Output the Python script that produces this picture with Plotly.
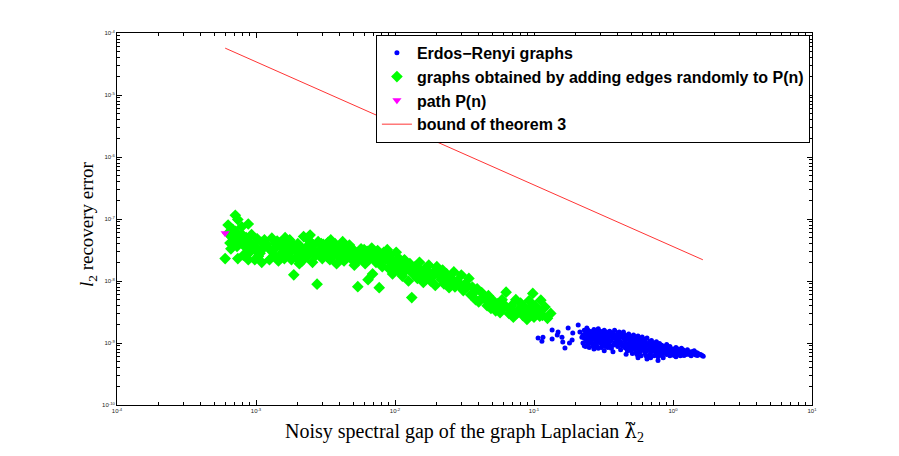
import plotly.graph_objects as go

# ---------------- data ----------------
# graphs obtained by adding edges randomly to P(n)
green_x = [
    7.1e-4, 7.4e-4, 8.8e-4, 6.3e-4, 7.9e-4, 6.0e-4, 6.3e-4, 6.7e-4, 6.5e-4, 7.1e-4,
    7.3e-4, 7.9e-4, 8.3e-4, 8.8e-4, 9.3e-4, 9.8e-4, 7.4e-4, 8.8e-4, 9.8e-4, 1.10e-3,
    1.07e-3, 1.15e-3, 1.20e-3, 1.13e-3, 6.8e-4, 7.6e-4, 8.1e-4, 9.0e-4, 1.02e-3, 6.6e-4,
    1.04e-3, 8.5e-4, 9.5e-4,
    1.3e-3, 1.35e-3, 1.4e-3, 1.45e-3, 1.5e-3, 1.55e-3, 1.6e-3, 1.65e-3, 1.7e-3, 1.75e-3,
    1.8e-3, 1.25e-3, 1.42e-3, 1.62e-3,
    1.87e-3, 1.9e-3, 1.95e-3, 2.0e-3, 2.1e-3, 2.15e-3, 2.2e-3, 2.3e-3, 2.35e-3, 2.4e-3,
    2.5e-3, 2.55e-3, 2.6e-3, 2.75e-3, 2.7e-3, 2.8e-3, 2.9e-3, 3.0e-3, 3.05e-3, 2.45e-3,
    2.05e-3,
    3.2e-3, 3.3e-3, 3.4e-3, 3.5e-3, 3.6e-3, 3.7e-3, 3.8e-3, 3.9e-3, 4.0e-3, 4.1e-3,
    4.3e-3, 4.4e-3, 4.6e-3, 4.7e-3, 4.9e-3, 5.0e-3, 5.1e-3, 3.45e-3, 4.2e-3,
    5.4e-3, 5.3e-3, 5.5e-3, 5.7e-3, 5.9e-3, 6.1e-3, 6.3e-3, 6.4e-3, 6.6e-3, 6.9e-3,
    6.8e-3, 7.0e-3, 7.3e-3, 7.5e-3, 7.7e-3, 7.8e-3, 8.1e-3, 8.3e-3,
    8.6e-3, 8.8e-3, 9.0e-3, 9.3e-3, 9.6e-3, 9.9e-3, 1.02e-2, 1.05e-2, 1.07e-2,
    1.1e-2, 1.13e-2, 1.17e-2, 1.2e-2, 1.25e-2, 1.28e-2, 1.32e-2, 1.35e-2, 1.4e-2, 1.45e-2,
    1.5e-2, 1.55e-2, 1.6e-2,
    1.65e-2, 1.7e-2, 1.75e-2, 1.8e-2, 1.9e-2, 1.95e-2, 2.0e-2, 2.1e-2, 2.2e-2, 2.25e-2,
    2.35e-2, 2.45e-2,
    2.55e-2, 2.65e-2, 2.7e-2, 2.8e-2, 3.0e-2, 3.1e-2, 3.2e-2, 3.4e-2, 3.5e-2, 3.6e-2,
    3.8e-2, 3.9e-2, 4.0e-2,
    4.2e-2, 4.4e-2, 4.6e-2, 4.7e-2, 4.9e-2, 5.1e-2, 5.3e-2, 5.5e-2, 5.7e-2, 5.9e-2,
    6.1e-2, 6.3e-2,
    6.6e-2, 6.9e-2, 7.1e-2, 7.4e-2, 7.7e-2, 8.0e-2, 8.3e-2, 8.6e-2, 8.9e-2, 9.2e-2,
    9.5e-2, 9.8e-2, 1.0e-1, 1.02e-1,
    1.08e-1, 1.12e-1, 1.15e-1, 1.2e-1, 1.25e-1, 1.32e-1,
    1.28e-3, 1.38e-3, 1.48e-3, 1.58e-3, 1.68e-3, 1.78e-3, 1.85e-3, 1.98e-3, 2.08e-3, 2.25e-3,
    2.38e-3, 2.52e-3, 2.65e-3, 2.85e-3, 2.95e-3, 3.1e-3, 3.25e-3, 3.55e-3, 3.75e-3, 3.95e-3,
    4.15e-3, 4.5e-3, 4.8e-3, 5.2e-3, 5.6e-3, 6.0e-3, 6.2e-3, 6.7e-3, 7.2e-3, 7.6e-3,
    8.0e-3, 8.5e-3, 9.1e-3, 9.5e-3, 1.0e-2, 1.08e-2, 1.15e-2, 1.23e-2, 1.3e-2, 1.38e-2,
    1.48e-2, 1.58e-2, 1.68e-2, 1.78e-2, 1.85e-2, 2.05e-2, 2.15e-2, 2.3e-2, 2.4e-2, 2.6e-2,
    2.9e-2, 3.3e-2, 3.7e-2, 4.3e-2, 4.8e-2, 5.2e-2, 5.6e-2, 6.0e-2, 6.8e-2, 7.5e-2,
    8.2e-2, 9.0e-2, 9.7e-2, 1.05e-1, 1.1e-1, 7.0e-4, 8.0e-4, 9.0e-4, 1.0e-3, 1.1e-3,
]
green_y = [
    1.15e-7, 9.8e-8, 8.3e-8, 8.0e-8, 7.5e-8, 2.3e-8, 5.9e-8, 5.1e-8, 4.1e-8, 6.3e-8,
    3.6e-8, 4.1e-8, 3.6e-8, 4.3e-8, 5.6e-8, 3.2e-8, 2.3e-8, 2.2e-8, 2.2e-8, 2.0e-8,
    2.8e-8, 4.6e-8, 3.9e-8, 3.4e-8, 6.8e-8, 5.3e-8, 2.6e-8, 2.9e-8, 4.8e-8, 3.3e-8,
    2.5e-8, 5.0e-8, 3.8e-8,
    4.9e-8, 2.6e-8, 3.5e-8, 2.1e-8, 4.2e-8, 2.9e-8, 2.3e-8, 3.6e-8, 2.7e-8, 4.6e-8,
    2.2e-8, 2.2e-8, 4.4e-8, 5.0e-8,
    1.26e-8, 3.3e-8, 2.4e-8, 4.0e-8, 2.8e-8, 2.1e-8, 5.2e-8, 3.5e-8, 2.5e-8, 4.5e-8,
    3.0e-8, 2.0e-8, 3.8e-8, 8.9e-9, 2.6e-8, 4.3e-8, 3.2e-8, 2.3e-8, 3.9e-8, 5.5e-8,
    1.9e-8,
    2.9e-8, 4.2e-8, 2.2e-8, 3.4e-8, 2.6e-8, 4.0e-8, 1.9e-8, 3.0e-8, 2.4e-8, 3.6e-8,
    2.1e-8, 3.1e-8, 2.6e-8, 3.8e-8, 2.2e-8, 3.2e-8, 1.8e-8, 4.6e-8, 4.3e-8,
    8.1e-9, 2.8e-8, 2.2e-8, 3.3e-8, 2.5e-8, 1.9e-8, 3.0e-8, 1.05e-8, 2.3e-8, 1.3e-8,
    3.4e-8, 2.7e-8, 2.0e-8, 3.1e-8, 7.8e-9, 2.4e-8, 1.7e-8, 2.9e-8,
    2.2e-8, 3.2e-8, 1.6e-8, 2.6e-8, 1.3e-8, 2.0e-8, 2.9e-8, 1.5e-8, 2.3e-8,
    1.8e-8, 1.2e-8, 2.2e-8, 1.5e-8, 1.0e-8, 1.9e-8, 5.4e-9, 1.3e-8, 1.7e-8, 1.1e-8,
    2.0e-8, 1.4e-8, 9.5e-9,
    1.6e-8, 1.2e-8, 1.8e-8, 1.0e-8, 1.4e-8, 8.5e-9, 1.7e-8, 1.2e-8, 1.5e-8, 9.0e-9,
    1.3e-8, 7.8e-9,
    1.1e-8, 1.4e-8, 8.0e-9, 1.0e-8, 1.25e-8, 7.0e-9, 9.0e-9, 1.1e-8, 6.0e-9, 8.0e-9,
    5.0e-9, 7.5e-9, 4.6e-9,
    6.5e-9, 5.2e-9, 4.0e-9, 5.8e-9, 3.6e-9, 4.8e-9, 3.3e-9, 4.3e-9, 3.1e-9, 5.0e-9,
    3.8e-9, 6.6e-9,
    3.0e-9, 4.0e-9, 2.6e-9, 5.0e-9, 3.4e-9, 4.4e-9, 2.8e-9, 3.7e-9, 2.4e-9, 4.8e-9,
    3.1e-9, 6.3e-9, 2.6e-9, 4.0e-9,
    3.3e-9, 4.9e-9, 2.8e-9, 3.8e-9, 2.5e-9, 3.0e-9,
    3.1e-8, 4.0e-8, 2.5e-8, 3.3e-8, 4.3e-8, 3.0e-8, 3.8e-8, 2.9e-8, 3.6e-8, 2.9e-8,
    3.2e-8, 4.0e-8, 3.0e-8, 2.6e-8, 4.0e-8, 3.3e-8, 2.5e-8, 3.9e-8, 2.9e-8, 3.5e-8,
    2.8e-8, 3.4e-8, 2.9e-8, 2.5e-8, 2.9e-8, 3.2e-8, 2.3e-8, 2.8e-8, 2.4e-8, 2.7e-8,
    2.2e-8, 2.6e-8, 2.3e-8, 1.9e-8, 1.7e-8, 2.0e-8, 1.6e-8, 1.8e-8, 1.5e-8, 1.4e-8,
    1.6e-8, 1.25e-8, 1.4e-8, 1.3e-8, 1.15e-8, 1.4e-8, 1.05e-8, 1.1e-8, 1.0e-8, 9.5e-9,
    8.5e-9, 8.0e-9, 6.5e-9, 5.5e-9, 4.6e-9, 4.0e-9, 3.7e-9, 4.3e-9, 3.5e-9, 3.0e-9,
    3.6e-9, 3.0e-9, 4.0e-9, 3.0e-9, 2.7e-9, 4.6e-8, 5.5e-8, 4.0e-8, 3.5e-8, 4.2e-8,
]

# Erdos-Renyi graphs
blue_x = [
    0.107, 0.116, 0.114, 0.135, 0.135, 0.149, 0.147, 0.159, 0.161, 0.167,
    0.176, 0.188, 0.190, 0.208, 0.214, 0.221, 0.180,
    0.23, 0.23, 0.23, 0.24, 0.24, 0.24, 0.25, 0.25, 0.25, 0.25,
    0.26, 0.26, 0.26, 0.27, 0.27, 0.27, 0.27, 0.28, 0.28, 0.28,
    0.29, 0.29, 0.29, 0.29, 0.30, 0.30, 0.30, 0.31, 0.31, 0.31,
    0.32, 0.32, 0.32, 0.32, 0.33, 0.33, 0.33, 0.34, 0.34, 0.34,
    0.35, 0.35, 0.35, 0.37, 0.37, 0.37, 0.37, 0.38, 0.38, 0.38,
    0.40, 0.40, 0.40, 0.40, 0.42, 0.42, 0.42, 0.44, 0.44, 0.44,
    0.46, 0.46, 0.46, 0.46, 0.48, 0.48, 0.48, 0.50, 0.50, 0.50,
    0.52, 0.52, 0.52, 0.54, 0.54, 0.54, 0.56, 0.56, 0.56, 0.56,
    0.58, 0.58, 0.58, 0.60, 0.60, 0.60, 0.63, 0.63, 0.63,
    0.65, 0.65, 0.65, 0.65, 0.68, 0.68, 0.68, 0.70, 0.70, 0.70,
    0.73, 0.73, 0.73, 0.76, 0.76, 0.76, 0.78, 0.80, 0.80, 0.80,
    0.83, 0.83, 0.83, 0.86, 0.86, 0.90, 0.90, 0.90, 0.95, 0.95, 0.95,
    1.00, 1.00, 1.05, 1.05, 1.05, 1.10, 1.10, 1.15, 1.15, 1.20, 1.20,
    1.27, 1.27, 1.35, 1.35, 1.42, 1.42, 1.50, 1.50, 1.58, 1.65,
    0.225, 0.225, 0.235, 0.235, 0.235, 0.245, 0.245, 0.245, 0.255, 0.255,
    0.265, 0.265, 0.265, 0.275, 0.275, 0.285, 0.285, 0.285, 0.295, 0.295,
    0.305, 0.305, 0.305, 0.315, 0.315, 0.325, 0.325, 0.325, 0.335, 0.335,
    0.345, 0.345, 0.36, 0.36, 0.36, 0.39, 0.39, 0.39, 0.41, 0.41, 0.41,
    0.43, 0.43, 0.43, 0.45, 0.45, 0.45, 0.47, 0.47, 0.47, 0.49, 0.49, 0.49,
    0.51, 0.51, 0.51, 0.53, 0.53, 0.53, 0.55, 0.55, 0.55, 0.57, 0.57, 0.57,
    0.59, 0.59, 0.59, 0.62, 0.62, 0.62, 0.64, 0.64, 0.64, 0.67, 0.67, 0.67,
    0.69, 0.69, 0.69, 0.72, 0.72, 0.75, 0.75, 0.75, 0.78, 0.78, 0.78,
    0.82, 0.82, 0.85, 0.85, 0.85, 0.88, 0.88, 0.92, 0.92, 0.97, 0.97,
    1.02, 1.02, 1.08, 1.08, 1.13, 1.13, 1.18, 1.18, 1.24, 1.24,
    1.31, 1.31, 1.39, 1.39, 1.46, 1.46, 1.54, 1.62,
]
blue_y = [
    1.2e-9, 1.24e-9, 1.07e-9, 1.62e-9, 1.16e-9, 1.5e-9, 1.35e-9, 1.24e-9, 1.04e-9, 8.3e-10,
    1.74e-9, 1.12e-9, 1.45e-9, 1.95e-9, 1.5e-9, 1.24e-9, 1.0e-9,
    1.6e-9, 1.2e-9, 9.0e-10, 1.4e-9, 1.05e-9, 1.75e-9, 1.3e-9, 8.5e-10, 1.55e-9, 1.1e-9,
    1.45e-9, 1.0e-9, 1.2e-9, 1.65e-9, 1.15e-9, 8.0e-10, 1.35e-9, 1.5e-9, 1.25e-9, 9.5e-10,
    1.7e-9, 1.1e-9, 1.4e-9, 8.2e-10, 1.3e-9, 1.0e-9, 1.55e-9, 1.45e-9, 1.2e-9, 9.0e-10,
    1.6e-9, 1.1e-9, 1.35e-9, 7.5e-10, 1.25e-9, 9.8e-10, 1.5e-9, 1.4e-9, 1.15e-9, 8.5e-10,
    1.55e-9, 1.05e-9, 1.3e-9, 1.45e-9, 1.2e-9, 9.2e-10, 7.2e-10, 1.35e-9, 1.0e-9, 1.6e-9,
    1.25e-9, 8.8e-10, 1.45e-9, 1.1e-9, 1.35e-9, 1.05e-9, 7.8e-10, 1.2e-9, 9.5e-10, 1.5e-9,
    1.3e-9, 1.0e-9, 8.2e-10, 6.6e-10, 1.15e-9, 9.0e-10, 1.4e-9, 1.25e-9, 1.0e-9, 7.5e-10,
    1.1e-9, 8.5e-10, 1.35e-9, 1.2e-9, 9.5e-10, 7.0e-10, 1.05e-9, 8.2e-10, 1.3e-9, 5.8e-10,
    1.15e-9, 9.0e-10, 7.2e-10, 1.0e-9, 8.0e-10, 1.25e-9, 1.1e-9, 8.8e-10, 6.8e-10,
    9.5e-10, 7.5e-10, 1.2e-9, 5.5e-10, 1.05e-9, 8.5e-10, 6.5e-10, 9.2e-10, 7.2e-10, 1.1e-9,
    1.0e-9, 8.0e-10, 6.2e-10, 9.0e-10, 7.0e-10, 1.05e-9, 5.2e-10, 8.5e-10, 6.8e-10, 9.8e-10,
    7.8e-10, 9.2e-10, 6.3e-10, 8.8e-10, 7.2e-10, 8.2e-10, 6.5e-10, 9.5e-10, 7.5e-10, 8.8e-10, 6.2e-10,
    8.0e-10, 6.8e-10, 7.2e-10, 8.5e-10, 6.0e-10, 7.8e-10, 6.5e-10, 7.0e-10, 8.2e-10, 7.5e-10, 6.3e-10,
    6.8e-10, 7.8e-10, 7.2e-10, 6.2e-10, 6.6e-10, 7.5e-10, 6.9e-10, 6.3e-10, 6.5e-10, 6.1e-10,
    1.35e-9, 1.0e-9, 1.5e-9, 1.15e-9, 8.8e-10, 1.25e-9, 9.5e-10, 1.6e-9, 1.4e-9, 1.05e-9,
    1.3e-9, 9.0e-10, 1.55e-9, 1.45e-9, 1.0e-9, 1.2e-9, 1.6e-9, 8.8e-10, 1.35e-9, 1.05e-9,
    1.15e-9, 1.4e-9, 8.5e-10, 1.3e-9, 1.0e-9, 1.45e-9, 8.8e-10, 1.2e-9, 1.35e-9, 1.05e-9,
    1.25e-9, 9.5e-10, 1.4e-9, 1.1e-9, 8.2e-10, 1.3e-9, 1.15e-9, 9.5e-10, 1.2e-9, 1.0e-9, 1.5e-9,
    1.25e-9, 9.0e-10, 1.4e-9, 1.1e-9, 8.5e-10, 1.35e-9, 1.2e-9, 9.5e-10, 7.5e-10, 1.05e-9, 1.3e-9, 8.5e-10,
    1.15e-9, 9.2e-10, 6.8e-10, 1.25e-9, 1.0e-9, 8.0e-10, 1.1e-9, 8.8e-10, 6.5e-10, 1.0e-9, 7.8e-10, 1.2e-9,
    1.05e-9, 8.5e-10, 6.2e-10, 9.5e-10, 7.5e-10, 1.15e-9, 1.0e-9, 8.0e-10, 6.2e-10, 9.5e-10, 7.8e-10, 6.0e-10,
    1.0e-9, 8.2e-10, 5.8e-10, 9.0e-10, 7.5e-10, 9.5e-10, 8.2e-10, 6.5e-10, 9.0e-10, 7.5e-10, 6.0e-10,
    8.5e-10, 7.2e-10, 8.0e-10, 6.8e-10, 5.8e-10, 7.8e-10, 8.8e-10, 7.2e-10, 8.5e-10, 7.8e-10, 6.8e-10,
    7.5e-10, 6.3e-10, 8.0e-10, 6.8e-10, 7.5e-10, 6.2e-10, 7.8e-10, 6.8e-10, 7.2e-10, 6.5e-10,
    7.0e-10, 6.5e-10, 6.8e-10, 7.2e-10, 6.4e-10, 7.0e-10, 6.6e-10, 6.3e-10,
]

# path P(n)
path_x = [6.0e-4]
path_y = [5.9e-8]

# bound of theorem 3
bound_x = [6.0e-4, 1.64]
bound_y = [5.7e-5, 2.2e-8]

# axis ticks
x_tick_vals = [1e-4, 1e-3, 1e-2, 1e-1, 1e0, 1e1]
x_tick_text = ["10<sup>-4</sup>", "10<sup>-3</sup>", "10<sup>-2</sup>",
               "10<sup>-1</sup>", "10<sup>0</sup>", "10<sup>1</sup>"]
y_tick_vals = [1e-10, 1e-9, 1e-8, 1e-7, 1e-6, 1e-5, 1e-4]
y_tick_text = ["10<sup>-10</sup>", "10<sup>-9</sup>", "10<sup>-8</sup>", "10<sup>-7</sup>",
               "10<sup>-6</sup>", "10<sup>-5</sup>", "10<sup>-4</sup>"]

legend_names = [
    "Erdos\u2212Renyi graphs",
    "graphs obtained by adding edges randomly to P(n)",
    "path P(n)",
    "bound of theorem 3",
]
x_title = ("Noisy spectral gap of the graph Laplacian "
           "<span style=\"font-family:'DejaVu Serif'\">λ\u0303</span><sub>2</sub>")
y_title = "<i>l</i><sub>2</sub> recovery error"

# ---------------- figure ----------------
fig = go.Figure()
fig.add_trace(go.Scatter(
    x=blue_x, y=blue_y, mode="markers", name=legend_names[0],
    marker=dict(symbol="circle", size=5, color="#0000ff", line=dict(width=0)),
))
fig.add_trace(go.Scatter(
    x=green_x, y=green_y, mode="markers", name=legend_names[1],
    marker=dict(symbol="diamond", size=9, color="#00ff00", line=dict(width=0)),
))
fig.add_trace(go.Scatter(
    x=path_x, y=path_y, mode="markers", name=legend_names[2],
    marker=dict(symbol="triangle-down", size=8, color="#ff00ff", line=dict(width=0)),
))
fig.add_trace(go.Scatter(
    x=bound_x, y=bound_y, mode="lines", name=legend_names[3],
    line=dict(color="#ff0000", width=0.8),
))

tickfont = dict(family="Liberation Sans", size=6, color="#222222")
axis_common = dict(
    type="log", showline=True, linecolor="#000000", linewidth=1, mirror="allticks",
    ticks="inside", ticklen=5, tickcolor="#000000", tickwidth=0.8,
    showgrid=False, zeroline=False, tickmode="array",
    tickfont=tickfont,
    minor=dict(ticks="inside", ticklen=3, tickcolor="#000000", tickmode="linear",
               dtick="D1", showgrid=False),
)

# page body adds an 8px offset, so the figure is 8px smaller on each axis
fig.update_layout(
    width=891, height=448,
    margin=dict(l=109, r=87, t=25, b=51),
    paper_bgcolor="white", plot_bgcolor="white",
    showlegend=True,
    legend=dict(
        x=0.997, y=0.995, xanchor="right", yanchor="top",
        bgcolor="white", bordercolor="#000000", borderwidth=1,
        font=dict(family="Liberation Sans", size=16, color="#000000", weight="bold"),
        itemwidth=30, tracegroupgap=0,
    ),
    annotations=[
        dict(text=x_title, xref="paper", yref="paper", x=0.5, y=-0.073,
             xanchor="center", yanchor="middle", showarrow=False,
             font=dict(family="Liberation Serif", size=20, color="#000000")),
        dict(text=y_title, xref="paper", yref="paper", x=-0.042, y=0.486,
             xanchor="center", yanchor="middle", showarrow=False, textangle=-90,
             font=dict(family="Liberation Serif", size=19, color="#000000")),
    ],
)
fig.update_xaxes(**axis_common, range=[-4, 1], tickvals=x_tick_vals, ticktext=x_tick_text)
fig.update_yaxes(**axis_common, range=[-10, -4], tickvals=y_tick_vals, ticktext=y_tick_text)

fig.write_html("out.html")
